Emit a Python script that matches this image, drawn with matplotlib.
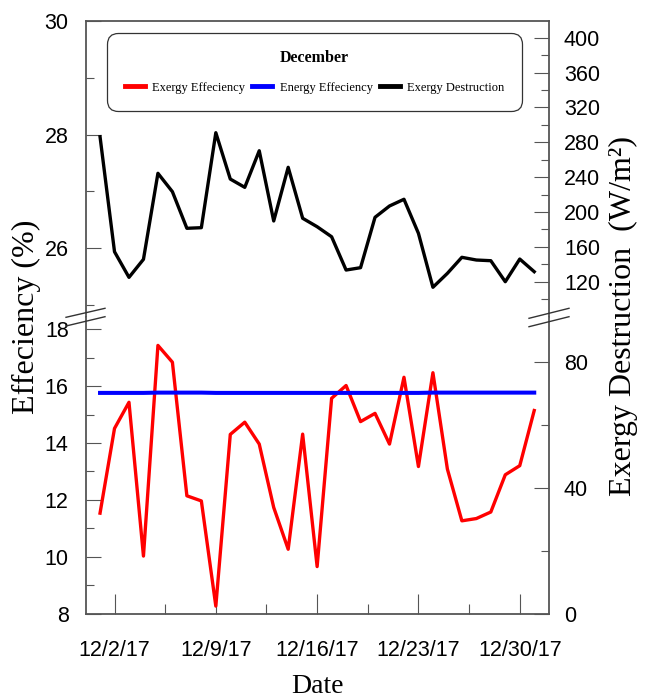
import numpy as np
import pandas as pd
import matplotlib
matplotlib.use('Agg')
import matplotlib.pyplot as plt
import matplotlib.dates as mdates
from matplotlib.lines import Line2D

# ── data ─────────────────────────────────────────────────────────────────────
dates = pd.date_range('2017-12-01', '2017-12-31', freq='D')

exergy_eff = [11.53, 14.51, 15.43, 10.02, 17.43, 16.84, 12.14, 11.96, 8.26, 14.30,
              14.73, 13.96, 11.73, 10.26, 14.31, 9.65, 15.57, 16.02, 14.75, 15.04,
              13.96, 16.31, 13.17, 16.47, 13.08, 11.26, 11.34, 11.57, 12.88, 13.20,
              15.14]
energy_eff = [15.76, 15.76, 15.76, 15.76, 15.77, 15.77, 15.77, 15.77, 15.76, 15.76,
              15.76, 15.76, 15.76, 15.76, 15.76, 15.76, 15.76, 15.76, 15.76, 15.76,
              15.76, 15.76, 15.76, 15.77, 15.77, 15.77, 15.77, 15.77, 15.77, 15.77,
              15.77]
exergy_dest = [286.4, 154.4, 125.0, 145.7, 244.4, 223.3, 181.3, 182.0, 291.0, 237.8,
               228.3, 270.3, 189.7, 251.3, 192.8, 183.1, 171.6, 133.4, 136.1, 193.9,
               206.9, 214.6, 175.5, 113.6, 129.6, 148.0, 144.9, 144.1, 120.0, 146.0,
               131.5]

tick_dates  = ['2017-12-02', '2017-12-09', '2017-12-16', '2017-12-23', '2017-12-30']
tick_labels = ['12/2/17', '12/9/17', '12/16/17', '12/23/17', '12/30/17']
legend_labels = ['Exergy Effeciency', 'Energy Effeciency', 'Exergy Destruction']

# ── style ────────────────────────────────────────────────────────────────────
plt.rcParams['font.family'] = ['Liberation Sans', 'DejaVu Sans']
SERIF = 'Liberation Serif'
SPINE = '#555555'
TICK_FS = 15.5

W, H = 648, 698
fig = plt.figure(figsize=(W / 100, H / 100), dpi=100)

L, R = 86, 548.7
Y_TOP, Y_MID, Y_BOT = 21, 317, 613.5


def rect(y0, y1):
    # 像素座標 (由上往下) 轉成 figure 座標
    return [L / W, 1 - y1 / H, (R - L) / W, (y1 - y0) / H]


ax_top = fig.add_axes(rect(Y_TOP, Y_MID))
ax_bot = fig.add_axes(rect(Y_MID, Y_BOT), sharex=ax_top)
ax_top_r = ax_top.twinx()
ax_bot_r = ax_bot.twinx()

x = mdates.date2num(dates)
xt = mdates.date2num(pd.to_datetime(tick_dates))

# ── lines ────────────────────────────────────────────────────────────────────
l_red, = ax_bot.plot(x, exergy_eff, color='#ff0000', lw=2.4)
l_blue, = ax_bot.plot(x, energy_eff, color='#0000ff', lw=2.9)
l_black, = ax_top_r.plot(x, exergy_dest, color='black', lw=2.4)

ax_bot.set_xlim(x[0] - 0.97, x[-1] + 1.0)
ax_top.set_ylim(24.79, 30)
ax_top_r.set_ylim(79.5, 419.2)
ax_bot.set_ylim(8, 18.43)
ax_bot_r.set_ylim(0, 94.2)

# ── ticks ────────────────────────────────────────────────────────────────────
ax_bot.set_xticks(xt)
ax_bot.set_xticklabels(tick_labels)
ax_bot.set_xticks(xt[:-1] + 3.5, minor=True)
ax_bot.tick_params(axis='x', which='major', direction='in', length=14.4, width=0.8,
                   color=SPINE, pad=19, labelsize=TICK_FS)
ax_bot.tick_params(axis='x', which='minor', direction='in', length=7, width=0.8,
                   color=SPINE)
ax_top.tick_params(axis='x', which='both', bottom=False, top=False, labelbottom=False)

ax_top.set_yticks([26, 28, 30])
ax_top.set_yticks([25, 27, 29], minor=True)
ax_bot.set_yticks([8, 10, 12, 14, 16, 18])
ax_bot.set_yticks([9, 11, 13, 15, 17], minor=True)
ax_top_r.set_yticks(np.arange(120, 401, 40))
ax_top_r.set_yticks(np.arange(100, 381, 40), minor=True)
ax_bot_r.set_yticks([0, 40, 80])
ax_bot_r.set_yticks([20, 60], minor=True)

for a, pad in [(ax_top, 12.5), (ax_bot, 12.5), (ax_top_r, 11), (ax_bot_r, 11)]:
    a.tick_params(axis='y', which='major', direction='in', length=10.8, width=0.8,
                  color=SPINE, pad=pad, labelsize=TICK_FS)
    a.tick_params(axis='y', which='minor', direction='in', length=5.8, width=0.8,
                  color=SPINE)

# ── spines ───────────────────────────────────────────────────────────────────
for a in (ax_top_r, ax_bot_r):
    for s in a.spines.values():
        s.set_visible(False)
ax_top.spines['bottom'].set_visible(False)
ax_bot.spines['top'].set_visible(False)
for a in (ax_top, ax_bot):
    for s in a.spines.values():
        s.set_color(SPINE)
        s.set_linewidth(1.3)

# 斷軸符號 //
for x0, x1, ya, yb in [(66, 105, 317.3, 308.3), (66, 105, 326, 316.7),
                       (529, 569, 318.3, 308.3), (529, 569, 326.7, 316.7)]:
    fig.add_artist(Line2D([x0 / W, x1 / W], [1 - ya / H, 1 - yb / H],
                          color='#333333', lw=1.0, transform=fig.transFigure))

# ── labels ───────────────────────────────────────────────────────────────────
fig.text((L + R) / 2 / W, 1 - 693.3 / H, 'Date', family=SERIF, fontsize=20,
         ha='center', va='baseline')
fig.text(26 / W, 1 - 317 / H, 'Effeciency (%)', family=SERIF, fontsize=23,
         rotation=90, ha='center', va='center')
fig.text(623 / W, 1 - 316 / H, 'Exergy Destruction  (W/m²)', family=SERIF, fontsize=23,
         rotation=90, ha='center', va='center')

# ── legend ───────────────────────────────────────────────────────────────────
leg = fig.legend([l_red, l_blue, l_black], legend_labels, ncol=3, mode='expand',
                 loc='upper left', bbox_to_anchor=(107 / W, 1 - 33 / H, 415 / W, 0),
                 bbox_transform=fig.transFigure, borderaxespad=0,
                 prop={'family': SERIF, 'size': 9},
                 title='December',
                 title_fontproperties={'family': SERIF, 'weight': 'bold', 'size': 11.5},
                 handlelength=1.6, handletextpad=0.6, columnspacing=0.8,
                 borderpad=1.4, labelspacing=1.2, frameon=True, fancybox=True,
                 framealpha=1, edgecolor='#333333', facecolor='white')
leg.get_frame().set_linewidth(0.9)
leg.get_frame().set_boxstyle('round', pad=0, rounding_size=0.9)
for h in leg.legend_handles:
    h.set_linewidth(3.5)

plt.savefig('out.png', dpi=100)
